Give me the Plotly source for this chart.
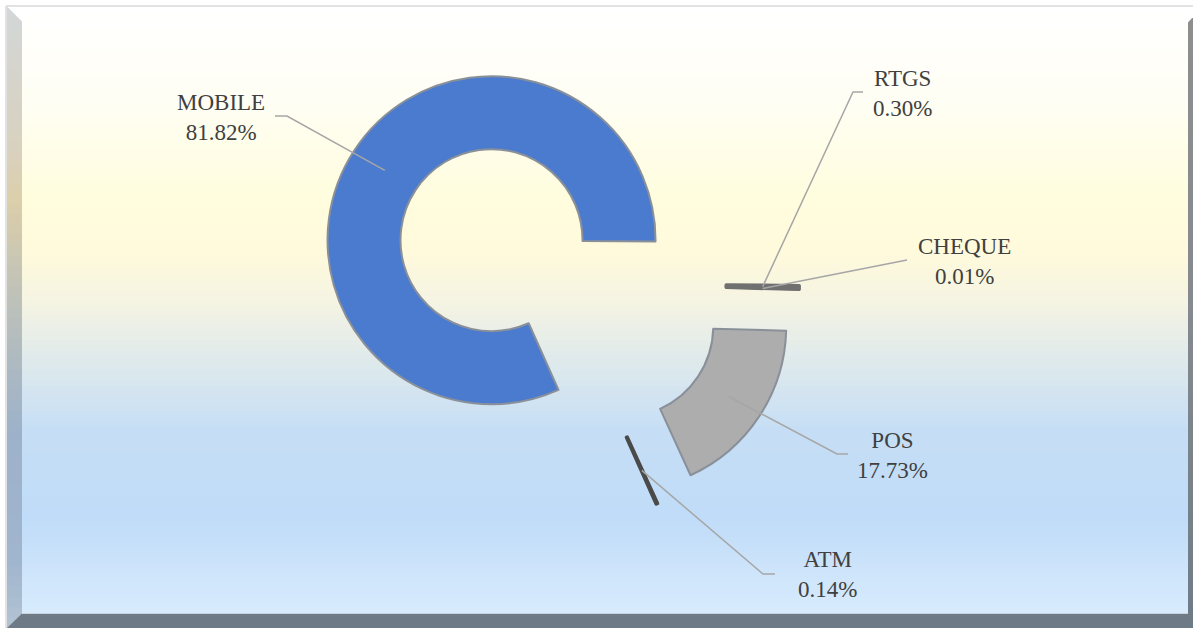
import math
import plotly.graph_objects as go

W, H = 1193, 628

# ---- data ----
labels = ["MOBILE", "RTGS", "CHEQUE", "POS", "ATM"]
shares = [81.82, 0.30, 0.01, 17.73, 0.14]

# ---- styling ----
slice_colors = ["#4A7BCF", "#A2A2A2", "#9A9A9A", "#ADADAD", "#626262"]
edge_colors = ["#8A9099", "#707070", "#707070", "#8A9099", "#4A4A4A"]
edge_widths = [2, 3.5, 3, 2, 3.5]
FONT = "Liberation Serif"

# geometry (pixels)
CX, CY = 557, 283
R_OUT = 164
HOLE = 0.555
PULL = 0.477
ROT = 155.9

S = 2 * R_OUT * (1 + PULL)
dom_x = [(CX - S / 2) / W, (CX + S / 2) / W]
dom_y = [1 - (CY + S / 2) / H, 1 - (CY - S / 2) / H]


def px(x, y):
    return x / W, 1 - y / H


def hex2rgb(h):
    h = h.lstrip("#")
    return [int(h[i:i + 2], 16) for i in (0, 2, 4)]


def interp(stops, y):
    for (y0, c0), (y1, c1) in zip(stops[:-1], stops[1:]):
        if y0 <= y <= y1:
            t = (y - y0) / (y1 - y0) if y1 > y0 else 0
            a, b = hex2rgb(c0), hex2rgb(c1)
            return "rgb(%d,%d,%d)" % tuple(round(a[k] + (b[k] - a[k]) * t) for k in range(3))
    return stops[-1][1]


shapes = []

# background gradient inside the frame
bg_stops = [(7, "#FFFFFF"), (100, "#FFFEF4"), (200, "#FFFDDD"), (250, "#FFFADC"),
            (300, "#F6F4E2"), (360, "#DFEAEC"), (430, "#C6DEF5"), (520, "#C0DCF8"),
            (613, "#D8EBFD")]
top, bot = 7, 613
n = 120
step = (bot - top) / n
for i in range(n):
    y0 = top + i * step
    y1 = y0 + step + 0.8
    x0p, y0p = px(22, y0)
    x1p, y1p = px(1188, y1)
    shapes.append(dict(type="rect", xref="paper", yref="paper", x0=x0p, x1=x1p, y0=y1p, y1=y0p,
                       fillcolor=interp(bg_stops, y0 + step / 2), line=dict(width=0), layer="below"))

# left bevel strip
left_stops = [(7, "#D3D7D9"), (150, "#D8D1BE"), (200, "#DCCFAA"), (300, "#BDC1B9"),
              (430, "#9DB2CA"), (560, "#A0B5CE"), (628, "#B2C3D3")]
n2 = 60
step2 = (628 - 7) / n2
for i in range(n2):
    y0 = 7 + i * step2
    y1 = y0 + step2 + 0.8
    x0p, y0p = px(7, y0)
    x1p, y1p = px(22, y1)
    shapes.append(dict(type="rect", xref="paper", yref="paper", x0=x0p, x1=x1p, y0=y1p, y1=y0p,
                       fillcolor=interp(left_stops, y0 + step2 / 2), line=dict(width=0), layer="below"))
# top-left diagonal corner (white)
shapes.append(dict(type="path", xref="paper", yref="paper",
                   path="M %f,%f L %f,%f L %f,%f Z" % (*px(7, 6.5), *px(22.5, 6.5), *px(22.5, 22)),
                   fillcolor="#FFFFFF", line=dict(width=0), layer="below"))

# right strip
right_stops = [(18, "#8E8E8E"), (300, "#858A8F"), (628, "#6E7B87")]
for i in range(n2):
    y0 = 18 + i * (628 - 18) / n2
    y1 = y0 + (628 - 18) / n2 + 0.8
    x0p, y0p = px(1188, y0)
    x1p, y1p = px(1193, y1)
    shapes.append(dict(type="rect", xref="paper", yref="paper", x0=x0p, x1=x1p, y0=y1p, y1=y0p,
                       fillcolor=interp(right_stops, y0), line=dict(width=0), layer="below"))
shapes.append(dict(type="path", xref="paper", yref="paper",
                   path="M %f,%f L %f,%f L %f,%f Z" % (*px(1187.5, 17), *px(1193, 17), *px(1187.5, 23)),
                   fillcolor="#FFFFFF", line=dict(width=0), layer="below"))

# bottom strip
shapes.append(dict(type="path", xref="paper", yref="paper",
                   path="M %f,%f L %f,%f L %f,%f L %f,%f Z" % (*px(7, 628), *px(22, 613.5), *px(1193, 613.5), *px(1193, 628)),
                   fillcolor="#6E7B87", line=dict(width=0), layer="below"))
shapes.append(dict(type="line", xref="paper", yref="paper",
                   x0=px(22, 613.5)[0], y0=px(22, 613.5)[1], x1=px(1188, 613.5)[0], y1=px(1188, 613.5)[1],
                   line=dict(color="#C9D3DD", width=1.2), layer="below"))

# outer thin light border (top & left)
shapes.append(dict(type="line", xref="paper", yref="paper", x0=px(6, 6)[0], y0=px(6, 6)[1],
                   x1=px(1193, 6)[0], y1=px(1193, 6)[1], line=dict(color="#D9D9D9", width=1.5), layer="below"))
shapes.append(dict(type="line", xref="paper", yref="paper", x0=px(6, 6)[0], y0=px(6, 6)[1],
                   x1=px(6, 628)[0], y1=px(6, 628)[1], line=dict(color="#D9D9D9", width=1.5), layer="below"))

# ---- label positions (layout) ----
label_pos = {"MOBILE": (221, 117), "RTGS": (902, 93), "CHEQUE": (964, 261),
             "POS": (893, 455), "ATM": (827, 574)}
# leader: (elbow, text end)
leader_pts = {"MOBILE": ((287, 116), (275, 116)), "RTGS": ((853, 92), (863, 92)),
              "CHEQUE": ((907, 260), (907, 260)), "POS": ((837, 454), (848, 454)),
              "ATM": ((763, 574), (775, 574))}

# slice mid-angles from the data
total = sum(shares)
ang = ROT
d_px = PULL * R_OUT
rho = (R_OUT + R_OUT * HOLE) / 2
annotations = []
for lab, v in zip(labels, shares):
    span = 360 * v / total
    mid = math.radians(ang + span / 2)
    ang += span
    ex = CX + (d_px + rho) * math.sin(mid)
    ey = CY - (d_px + rho) * math.cos(mid)
    (bx, by), (tx, ty) = leader_pts[lab]
    p0, p1, p2 = px(ex, ey), px(bx, by), px(tx, ty)
    shapes.append(dict(type="path", xref="paper", yref="paper",
                       path="M %f,%f L %f,%f L %f,%f" % (*p0, *p1, *p2),
                       line=dict(color="#A6A6A6", width=1.5), layer="above"))
    lx, ly = label_pos[lab]
    annotations.append(dict(xref="paper", yref="paper", x=px(lx, ly)[0], y=px(lx, ly)[1],
                            text="%s<br>%.2f%%" % (lab, v), showarrow=False,
                            xanchor="center", yanchor="middle", align="center",
                            font=dict(family=FONT, size=23, color="#404040")))

fig = go.Figure(go.Pie(
    labels=labels, values=shares, sort=False, direction="clockwise", rotation=ROT,
    hole=HOLE, pull=[PULL] * len(labels), textinfo="none", hoverinfo="label+percent",
    marker=dict(colors=slice_colors, line=dict(color=edge_colors, width=edge_widths)),
    domain=dict(x=dom_x, y=dom_y), showlegend=False,
))

fig.update_layout(width=W, height=H, margin=dict(l=0, r=0, t=0, b=0),
                  paper_bgcolor="#FFFFFF", plot_bgcolor="#FFFFFF",
                  shapes=shapes, annotations=annotations, showlegend=False)

fig.write_html("out.html")
